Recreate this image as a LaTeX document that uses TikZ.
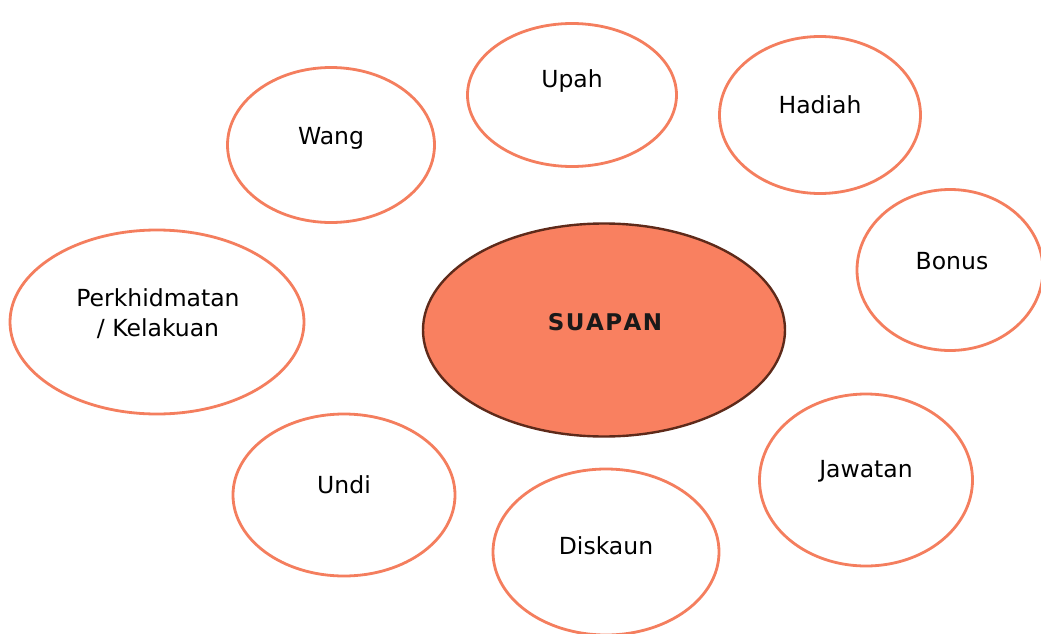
\documentclass[tikz,border=0pt]{standalone}
\usepackage{fontspec}
\setmainfont{DejaVu Sans}
\usetikzlibrary{shapes.geometric}
\definecolor{coral}{HTML}{F47E5E}
\definecolor{corefill}{HTML}{F98060}
\definecolor{coreline}{HTML}{5E2A1A}
\newcommand{\lsp}{\kern1.5pt}
\begin{document}
\begin{tikzpicture}[x=1pt,y=-1pt,
  bubble/.style={ellipse,draw=coral,line width=2.8pt,fill=white,inner sep=0pt},
  lbl/.style={anchor=base,font=\fontsize{23.5}{30}\selectfont,text=black,inner sep=0pt,align=center}]
\useasboundingbox (0,0) rectangle (1041,634);
\node[bubble,minimum width=209pt,minimum height=143pt] (upah) at (572,95) {};
\node[bubble,minimum width=201pt,minimum height=157pt] (hadiah) at (820,115) {};
\node[bubble,minimum width=207pt,minimum height=155pt] (wang) at (331,145) {};
\node[bubble,minimum width=186pt,minimum height=161pt] (bonus) at (950,270) {};
\node[bubble,minimum width=294pt,minimum height=184pt] (perk) at (157,322) {};
\node[ellipse,draw=coreline,fill=corefill,line width=2.4pt,minimum width=362pt,minimum height=213pt] (suapan) at (604,330) {};
\node[bubble,minimum width=222pt,minimum height=162pt] (undi) at (344,495) {};
\node[bubble,minimum width=226pt,minimum height=166pt] (diskaun) at (606,552) {};
\node[bubble,minimum width=213pt,minimum height=172pt] (jawatan) at (866,480) {};
\node[lbl] (tupah) at (572,87) {Upah};
\node[lbl] (thadiah) at (820,113) {Hadiah};
\node[lbl] (twang) at (331,144) {Wang};
\node[lbl] (tbonus) at (952,269) {Bonus};
\node[lbl] (tperk1) at (158,306) {Perkhidmatan};
\node[lbl] (tperk2) at (158,336) {/ Kelakuan};
\node[lbl,font=\fontsize{23}{27}\selectfont\bfseries,text=black!90] (tsuapan) at (605,330) {S\lsp U\lsp A\lsp P\lsp A\lsp N};
\node[lbl] (tundi) at (344,493) {Undi};
\node[lbl] (tdiskaun) at (606,554) {Diskaun};
\node[lbl] (tjawatan) at (866,477) {Jawatan};
\end{tikzpicture}
\end{document}
